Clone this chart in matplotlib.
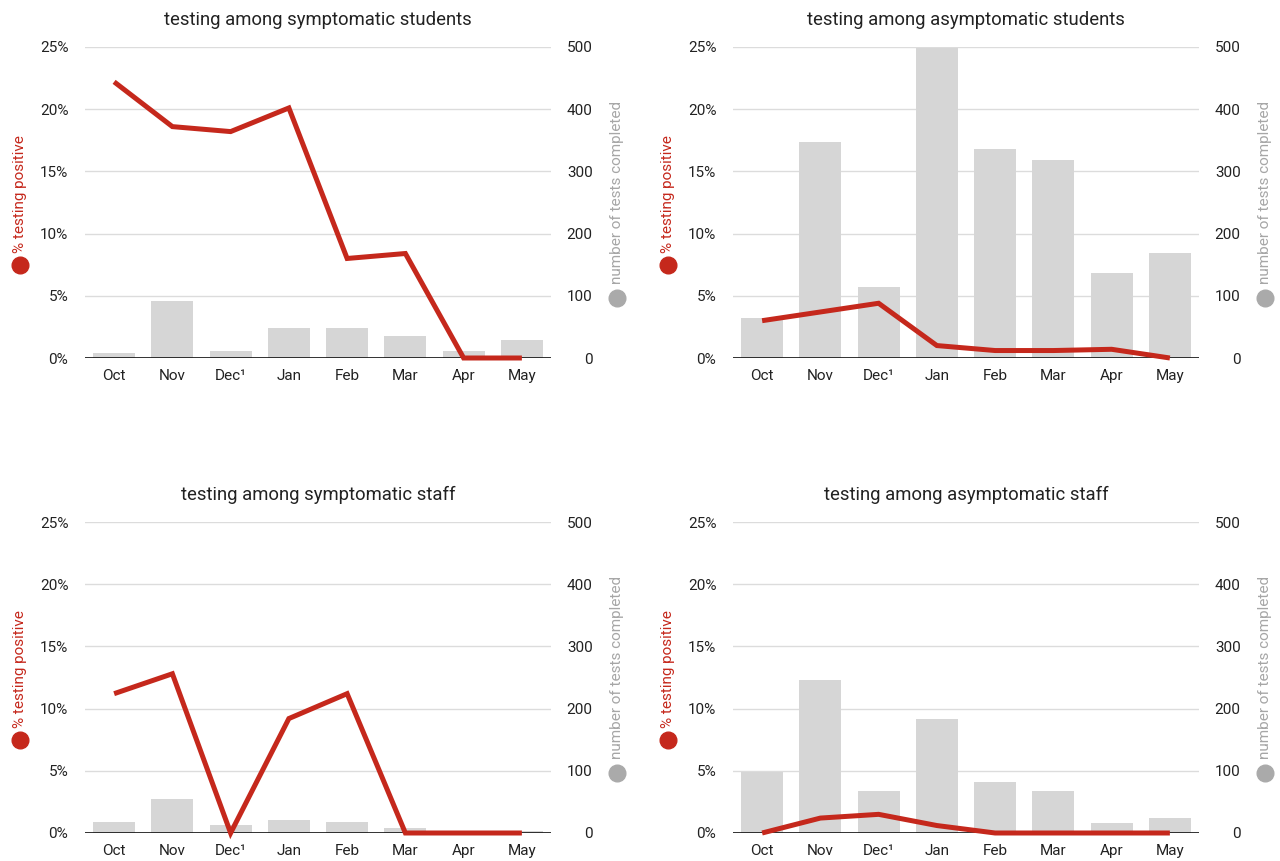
import numpy as np
import matplotlib
matplotlib.use("Agg")
import matplotlib.pyplot as plt

plt.rcParams['font.family'] = ['Roboto', 'DejaVu Sans']

months = ['Oct', 'Nov', 'Dec¹', 'Jan', 'Feb', 'Mar', 'Apr', 'May']

# percent of tests that came back positive
pct_sym_students = [22.2, 18.6, 18.2, 20.1, 8.0, 8.4, 0.0, 0.0]
pct_asym_students = [3.0, 3.7, 4.4, 1.0, 0.6, 0.6, 0.7, 0.0]
pct_sym_staff = [11.2, 12.8, 0.0, 9.2, 11.2, 0.0, 0.0, 0.0]
pct_asym_staff = [0.0, 1.2, 1.5, 0.6, 0.0, 0.0, 0.0, 0.0]

# number of tests completed each month
n_sym_students = [8, 92, 11, 49, 49, 36, 12, 29]
n_asym_students = [64, 347, 114, 498, 336, 318, 137, 169]
n_sym_staff = [17, 55, 13, 21, 17, 8, 0, 3]
n_asym_staff = [98, 246, 67, 184, 82, 67, 16, 24]

panels = [
    ('testing among symptomatic students', pct_sym_students, n_sym_students),
    ('testing among asymptomatic students', pct_asym_students, n_asym_students),
    ('testing among symptomatic staff', pct_sym_staff, n_sym_staff),
    ('testing among asymptomatic staff', pct_asym_staff, n_asym_staff),
]

RED = '#c5281c'
BAR = '#d6d6d6'
GREY_LABEL = '#a6a6a6'
GRID = '#dcdcdc'

W, H = 1280, 861
fig = plt.figure(figsize=(W / 100, H / 100), dpi=100)

# axes boxes in pixels: left, top, right, bottom
boxes = [(85, 47, 551, 358), (733, 47, 1199, 358),
         (85, 522, 551, 833), (733, 522, 1199, 833)]

x = np.arange(len(months))

for (title, pct, n), (l, t, r, b) in zip(panels, boxes):
    ax2 = fig.add_axes([l / W, 1 - b / H, (r - l) / W, (b - t) / H])
    ax = ax2.twinx()
    ax.yaxis.tick_left()
    ax.yaxis.set_label_position('left')
    ax2.yaxis.tick_right()

    # bars (test counts) on the right-hand scale, behind the line
    ax2.set_axisbelow(True)
    ax2.bar(x, n, width=0.72, color=BAR, zorder=2)
    ax2.set_ylim(0, 500)
    ax2.set_yticks(np.arange(0, 501, 100))
    ax2.grid(axis='y', color=GRID, linewidth=1, zorder=0)
    ax2.tick_params(axis='y', length=0, pad=30, labelsize=11, labelcolor='#222222')
    for lbl in ax2.get_yticklabels():
        lbl.set_horizontalalignment('right')
    ax2.set_xlim(-0.5, len(months) - 0.5)
    ax2.set_xticks(x)
    ax2.set_xticklabels(months)
    ax2.tick_params(axis='x', length=0, pad=8, labelsize=11, labelcolor='#222222')

    # percent positive line on the left-hand scale
    ax.axhline(0, color='#111111', linewidth=1.2, zorder=2)
    ax.plot(x, pct, color=RED, linewidth=3.6, solid_capstyle='butt',
            solid_joinstyle='miter', zorder=3, clip_on=False)
    ax.set_ylim(0, 25)
    ax.set_yticks(np.arange(0, 26, 5))
    ax.set_yticklabels([f'{v}%' for v in range(0, 26, 5)])
    ax.tick_params(axis='y', length=0, pad=12, labelsize=11, labelcolor='#222222')

    for a in (ax, ax2):
        for s in a.spines.values():
            s.set_visible(False)

    ax2.set_title(title, fontsize=13.3, pad=16, color='#222222')

    # axis captions with coloured dots
    ax.text(-0.139, 0.338, '% testing positive', rotation=90, color=RED,
            fontsize=11, ha='center', va='bottom', transform=ax.transAxes)
    ax.plot([-0.139], [0.299], 'o', color=RED, markersize=12,
            transform=ax.transAxes, clip_on=False)
    ax.text(1.1416, 0.237, 'number of tests completed', rotation=90,
            color=GREY_LABEL, fontsize=11, ha='center', va='bottom',
            transform=ax.transAxes)
    ax.plot([1.1416], [0.193], 'o', color='#aaaaaa', markersize=12,
            transform=ax.transAxes, clip_on=False)

fig.savefig('out.png', dpi=100, facecolor='white')
